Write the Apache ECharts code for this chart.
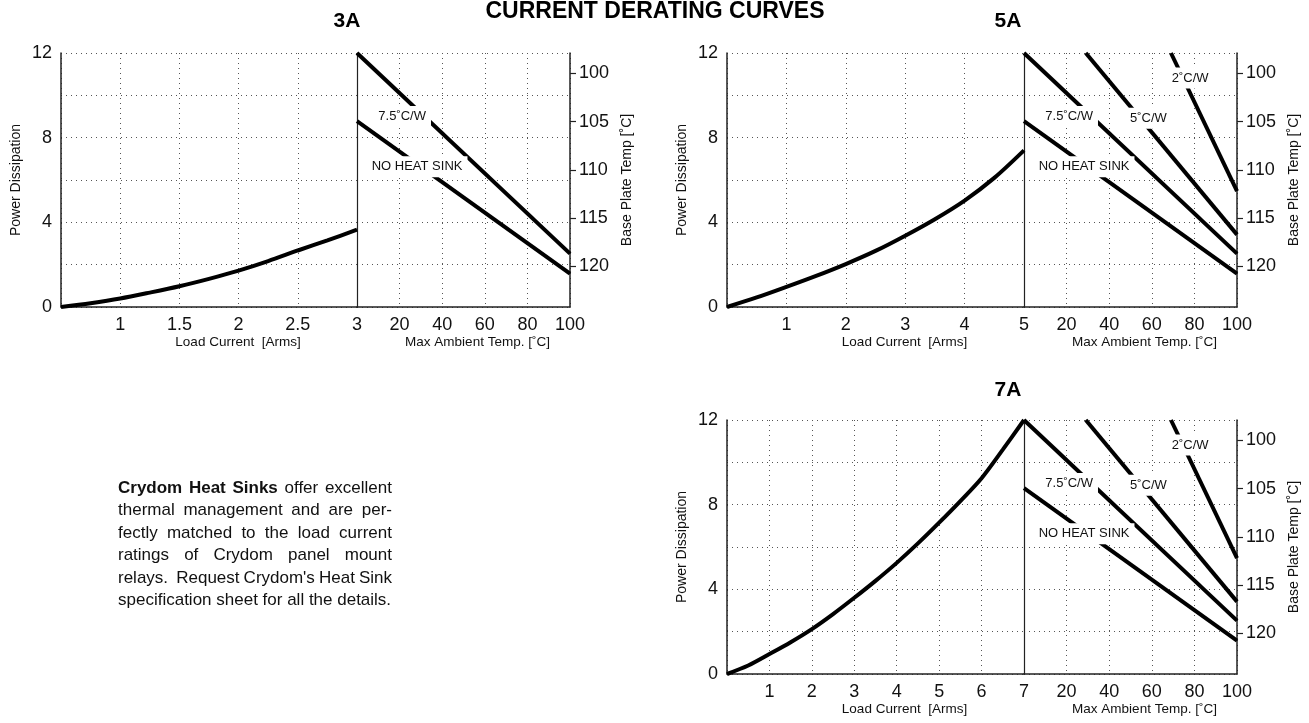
<!DOCTYPE html>
<html><head><meta charset="utf-8">
<script src="https://cdn.jsdelivr.net/npm/echarts@6/dist/echarts.min.js"></script>
<style>html,body{margin:0;padding:0;background:#fff}#c{width:1309px;height:723px}</style>
</head><body><div id="c"></div>
<script>
// ---------- data ----------
const curr3 = [0.5, 0.75, 1, 1.25, 1.5, 1.75, 2, 2.25, 2.5, 2.75, 3];
const pow3  = [0, 0.18, 0.4, 0.68, 0.98, 1.33, 1.72, 2.17, 2.67, 3.15, 3.65];
const curr5 = [0, 0.5, 1, 1.5, 2, 2.5, 3, 3.5, 4, 4.5, 5];
const pow5  = [0, 0.45, 0.95, 1.47, 2.03, 2.65, 3.37, 4.15, 5.03, 6.1, 7.4];
const curr7 = [0, 0.5, 1, 1.5, 2, 2.5, 3, 3.5, 4, 4.5, 5, 5.5, 6, 6.5, 7];
const pow7  = [0, 0.4, 0.94, 1.5, 2.12, 2.83, 3.6, 4.4, 5.25, 6.17, 7.15, 8.17, 9.25, 10.6, 12];

const noSinkTemp = [0, 100];  const noSinkPow = [8.78, 1.58];
const sink75Temp = [0, 100];  const sink75Pow  = [12, 2.52];
const sink5Temp  = [29, 100]; const sink5Pow   = [12, 3.42];
const sink2Temp  = [69, 100]; const sink2Pow   = [12, 5.47];

const sinkNames = ['NO HEAT SINK', '7.5˚C/W', '5˚C/W', '2˚C/W'];
const sinkLabelTemp = [28.2, 21.2, 58.4, 78];
const sinkLabelPow  = [6.63, 9.0, 8.92, 10.82];

const baseTempTicks = [100, 105, 110, 115, 120];
const powerTicksShown = [0, 4, 8, 12];

const bodyText = [
  'Crydom Heat Sinks offer excellent',
  'thermal management and are per-',
  'fectly matched to the load current',
  'ratings of Crydom panel mount',
  "relays.  Request Crydom's Heat Sink",
  'specification sheet for all the details.'
];
const boldWordCount = 3;

// ---------- layout ----------
const FONT = "'Liberation Sans', Arial, Helvetica, sans-serif";
const sinkSets = [[noSinkTemp, noSinkPow], [sink75Temp, sink75Pow], [sink5Temp, sink5Pow], [sink2Temp, sink2Pow]];
const panels = [
  {label: '3A', curr: curr3, pow: pow3, cmin: 0.5, cmax: 3, cstep: 0.5, sinks: [0, 1], left: 61, leftW: 296, top: 53, lx: 347, ly: 21},
  {label: '5A', curr: curr5, pow: pow5, cmin: 0, cmax: 5, cstep: 1, sinks: [0, 1, 2, 3], left: 727, leftW: 297, top: 53, lx: 1008, ly: 21},
  {label: '7A', curr: curr7, pow: pow7, cmin: 0, cmax: 7, cstep: 1, sinks: [0, 1, 2, 3], left: 727, leftW: 297, top: 420, lx: 1008, ly: 390}
];
const H = 254, RW = 213;
const axisCol = '#222', gridCol = '#555', textCol = '#111';
const dotted = {show: true, lineStyle: {color: gridCol, width: 1, type: [1, 4]}};

const grid = [], xAxis = [], yAxis = [], series = [];
panels.forEach((p, i) => {
  grid.push({left: p.left, top: p.top, width: p.leftW, height: H});
  grid.push({left: p.left + p.leftW, top: p.top, width: RW, height: H});
  xAxis.push({
    gridIndex: 2 * i, type: 'value', min: p.cmin, max: p.cmax, interval: p.cstep,
    axisLine: {show: true, lineStyle: {color: axisCol, width: 1.5}}, axisTick: {show: false},
    axisLabel: {fontSize: 18, color: textCol, fontFamily: FONT, margin: 9, formatter: v => (Math.abs(v - p.cmin) < 1e-9 ? '' : String(v))},
    splitLine: dotted,
    name: 'Load Current  [Arms]', nameLocation: 'middle', nameGap: 28,
    nameTextStyle: {fontSize: 13.5, color: textCol, fontFamily: FONT, padding: [0, 0, 0, 58]}
  });
  xAxis.push({
    gridIndex: 2 * i + 1, type: 'value', min: 0, max: 100, interval: 20,
    axisLine: {show: true, lineStyle: {color: axisCol, width: 1.5}}, axisTick: {show: false},
    axisLabel: {fontSize: 18, color: textCol, fontFamily: FONT, margin: 9, formatter: v => (v === 0 ? '' : String(v))},
    splitLine: dotted,
    name: 'Max Ambient Temp. [˚C]', nameLocation: 'middle', nameGap: 28,
    nameTextStyle: {fontSize: 13.5, color: textCol, fontFamily: FONT, padding: [0, 0, 0, 28]}
  });
  yAxis.push({
    gridIndex: 2 * i, type: 'value', min: 0, max: 12, interval: 2,
    axisLine: {show: true, lineStyle: {color: axisCol, width: 1.5}}, axisTick: {show: false},
    axisLabel: {fontSize: 18, color: textCol, fontFamily: FONT, margin: 9, formatter: v => (powerTicksShown.includes(v) ? String(v) : '')},
    splitLine: dotted,
    name: 'Power Dissipation', nameLocation: 'middle', nameGap: 38, nameRotate: 90,
    nameTextStyle: {fontSize: 14, color: textCol, fontFamily: FONT}
  });
  yAxis.push({
    gridIndex: 2 * i + 1, type: 'value', min: 0, max: 12, interval: 2, position: 'left',
    axisLine: {show: true, lineStyle: {color: axisCol, width: 1.2}}, axisTick: {show: false},
    axisLabel: {show: false}, splitLine: dotted
  });
  yAxis.push({
    gridIndex: 2 * i + 1, type: 'value', min: 97.9, max: 124.2, inverse: true, position: 'right',
    axisLine: {show: true, lineStyle: {color: axisCol, width: 1.5}},
    axisTick: {show: true, inside: false, length: 6, customValues: baseTempTicks, lineStyle: {color: axisCol, width: 1.2}},
    axisLabel: {show: true, customValues: baseTempTicks, fontSize: 18, color: textCol, fontFamily: FONT, margin: 9},
    splitLine: {show: false},
    name: 'Base Plate Temp [˚C]', nameLocation: 'middle', nameGap: 50, nameRotate: 90,
    nameTextStyle: {fontSize: 14, color: textCol, fontFamily: FONT}
  });
  series.push({
    type: 'line', xAxisIndex: 2 * i, yAxisIndex: 3 * i, smooth: 0.3, showSymbol: false, symbol: 'none',
    lineStyle: {color: '#000', width: 4}, z: 3, silent: true,
    data: p.curr.map((c, k) => [c, p.pow[k]])
  });
  p.sinks.forEach(s => {
    const [tt, pp] = sinkSets[s];
    series.push({
      type: 'line', xAxisIndex: 2 * i + 1, yAxisIndex: 3 * i + 1, showSymbol: false, symbol: 'none',
      lineStyle: {color: '#000', width: 4}, z: 3, silent: true,
      data: tt.map((t, k) => [t, pp[k]])
    });
  });
  series.push({
    type: 'scatter', xAxisIndex: 2 * i + 1, yAxisIndex: 3 * i + 1, symbolSize: 1, z: 10, silent: true,
    itemStyle: {color: '#fff', opacity: 1},
    label: {show: true, position: 'inside', formatter: d => d.name, backgroundColor: '#fff', padding: [4, 5],
      fontSize: 13, color: textCol, fontFamily: FONT, opacity: 1},
    data: p.sinks.map(s => ({name: sinkNames[s], value: [sinkLabelTemp[s], sinkLabelPow[s]]}))
  });
});

// ---------- text ----------
const graphic = [];
graphic.push({type: 'text', x: 655, y: 12, style: {text: 'CURRENT DERATING CURVES', fontSize: 23, fontWeight: 'bold', fontFamily: FONT, fill: '#000', align: 'center', verticalAlign: 'middle'}});
panels.forEach(p => graphic.push({type: 'text', x: p.lx, y: p.ly, style: {text: p.label, fontSize: 21, fontWeight: 'bold', fontFamily: FONT, fill: '#000', align: 'center', verticalAlign: 'middle'}}));

const BODY_FS = 17, BODY_X0 = 118, BODY_X1 = 392, BODY_Y0 = 488, BODY_DY = 22.5;
const ctx = document.createElement('canvas').getContext('2d');
function wWidth(w, bold) { ctx.font = (bold ? 'bold ' : '') + BODY_FS + 'px ' + FONT; return ctx.measureText(w).width; }
let wordIdx = 0;
bodyText.forEach((line, li) => {
  const toks = line.split(' ');
  const info = toks.map(t => { const b = wordIdx < boldWordCount && t !== ''; if (t !== '') wordIdx++; return {t, b, w: t ? wWidth(t, b) : 0}; });
  const total = info.reduce((a, o) => a + o.w, 0);
  const last = li === bodyText.length - 1;
  const gap = last ? wWidth(' ', false) : (BODY_X1 - BODY_X0 - total) / (toks.length - 1);
  let x = BODY_X0;
  info.forEach(o => {
    if (o.t) graphic.push({type: 'text', x: x, y: BODY_Y0 + li * BODY_DY, style: {text: o.t, fontSize: BODY_FS, fontWeight: o.b ? 'bold' : 'normal', fontFamily: FONT, fill: '#111', align: 'left', verticalAlign: 'middle'}});
    x += o.w + gap;
  });
});

const chart = echarts.init(document.getElementById('c'));
chart.setOption({animation: false, backgroundColor: '#fff', grid, xAxis, yAxis, series, graphic});
</script></body></html>
